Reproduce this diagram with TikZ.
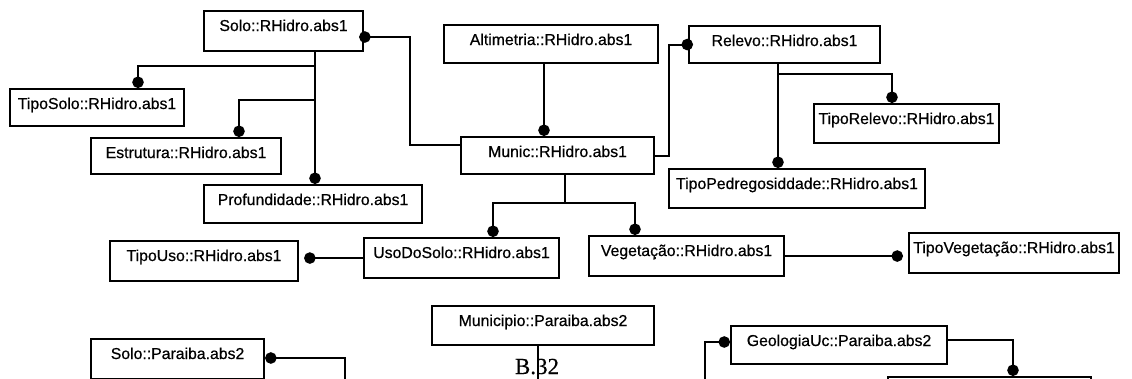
\documentclass[tikz,border=0pt]{standalone}
\usepackage{fontspec}
\setmainfont{Liberation Sans}
\newfontface\lblfont{Liberation Sans}[FakeBold=0.6]
\newfontface\pagefont{Liberation Serif}[FakeBold=0.4]
\usetikzlibrary{arrows.meta,calc}

\begin{document}
\begin{tikzpicture}[x=1pt,y=-1pt,
  cls/.style={draw, line width=2.1pt, rectangle, inner sep=0pt, anchor=north west},
  nm/.style={anchor=base, inner sep=0pt, yshift=-21pt, font=\lblfont\fontsize{15.8}{18}\selectfont},
  conn/.style={line width=1.9pt},
  ball/.tip={Circle[length=11.5pt]}]

\fill[white] (0,0) rectangle (1132,378);
\useasboundingbox (0,0) rectangle (1132,378);
\clip (0,0) rectangle (1132,378);

% classes of the RHidro schema
\node[cls, minimum width=159pt, minimum height=40pt, label={[nm]north:{Solo::RHidro.abs1}}] (soloR) at (203,10) {};
\node[cls, minimum width=214pt, minimum height=38pt, label={[nm]north:{Altimetria::RHidro.abs1}}] (alti) at (443,24) {};
\node[cls, minimum width=191pt, minimum height=37pt, label={[nm]north:{Relevo::RHidro.abs1}}] (relevo) at (688,25) {};
\node[cls, minimum width=174pt, minimum height=37pt, label={[nm]north:{TipoSolo::RHidro.abs1}}] (tiposolo) at (9,88) {};
\node[cls, minimum width=190pt, minimum height=36pt, label={[nm]north:{Estrutura::RHidro.abs1}}] (estrut) at (90,137) {};
\node[cls, minimum width=193pt, minimum height=37pt, label={[nm]north:{Munic::RHidro.abs1}}] (munic) at (460,136) {};
\node[cls, minimum width=185pt, minimum height=39pt, label={[nm]north:{TipoRelevo::RHidro.abs1}}] (tiporel) at (813,103) {};
\node[cls, minimum width=256pt, minimum height=39pt, label={[nm]north:{TipoPedregosiddade::RHidro.abs1}}] (pedreg) at (668,168) {};
\node[cls, minimum width=218pt, minimum height=38pt, label={[nm]north:{Profundidade::RHidro.abs1}}] (prof) at (203,184) {};
\node[cls, minimum width=188pt, minimum height=40pt, label={[nm]north:{TipoUso::RHidro.abs1}}] (tipouso) at (109,240) {};
\node[cls, minimum width=195pt, minimum height=40pt, label={[nm]north:{UsoDoSolo::RHidro.abs1}}] (uso) at (363,237) {};
\node[cls, minimum width=195pt, minimum height=40pt, label={[nm]north:{Vegetação::RHidro.abs1}}] (veg) at (588,235) {};
\node[cls, minimum width=210pt, minimum height=40pt, label={[nm]north:{TipoVegetação::RHidro.abs1}}] (tipoveg) at (908,232) {};

% classes of the Paraiba schema
\node[cls, minimum width=222pt, minimum height=39pt, label={[nm]north:{Municipio::Paraiba.abs2}}] (municP) at (431,305) {};
\node[cls, minimum width=173pt, minimum height=40pt, label={[nm]north:{Solo::Paraiba.abs2}}] (soloP) at (90,338) {};
\node[cls, minimum width=216pt, minimum height=38pt, label={[nm]north:{GeologiaUc::Paraiba.abs2}}] (geo) at (730,325) {};
\node[cls, minimum width=203pt, minimum height=40pt] (lowbox) at (887,376) {};

% page number
\node[font=\pagefont\fontsize{23}{25}\selectfont, anchor=base, inner sep=0pt] (pg) at (537,374) {B.32};

% Solo tree
\coordinate (sc) at (315,0);
\coordinate (sb1) at (315,66);
\coordinate (sb2) at (315,100);
\draw[conn,-ball] (sc |- soloR.south) -- (sc |- prof.north);
\draw[conn,-ball] (sb1) -| ($(tiposolo.north west)+(129,0)$);
\draw[conn,-ball] (sb2) -| ($(estrut.north west)+(149,0)$);

% Solo -> Munic
\coordinate (k1) at (410,145);
\draw[conn,ball-,shorten <=-5pt] ($(soloR.north east)+(0,27)$) -| (k1) -- (k1 -| munic.west);

% Altimetria -> Munic
\coordinate (ac) at (544,0);
\draw[conn,-ball] (ac |- alti.south) -- (ac |- munic.north);

% Munic -> Relevo
\coordinate (k2) at (669,100);
\draw[conn,-ball,shorten >=-5pt] (munic.east) -| (k2) |- (relevo.west);

% Relevo tree
\coordinate (rc) at (778,0);
\coordinate (rb) at (778,74);
\draw[conn,-ball] (rc |- relevo.south) -- (rc |- pedreg.north);
\draw[conn,-ball] (rb) -| ($(tiporel.north west)+(79,0)$);

% Munic tree
\coordinate (mb) at (565,203);
\draw[conn] (mb |- munic.south) -- (mb);
\draw[conn,-ball] (mb) -| ($(uso.north west)+(130,0)$);
\draw[conn,-ball] (mb) -| ($(veg.north west)+(47,0)$);

% side links
\draw[conn,-ball] (uso.west) -- ($(uso.west -| tipouso.east)+(5,0)$);
\draw[conn,-ball] (veg.east) -- ($(veg.east -| tipoveg.west)+(-5,0)$);

% Paraiba links running off the page
\coordinate (pc) at (538,390);
\draw[conn] (pc |- municP.south) -- (pc);
\coordinate (q1) at (345,390);
\draw[conn,ball-] ($(soloP.north east)+(0,20)$) -| (q1);
\coordinate (q2) at (705,390);
\draw[conn,ball-] ($(geo.north west)+(0,17)$) -| (q2);
\coordinate (q3) at (1013,0);
\draw[conn,-ball] ($(geo.north east)+(0,15)$) -| (q3 |- lowbox.north);

\end{tikzpicture}
\end{document}
